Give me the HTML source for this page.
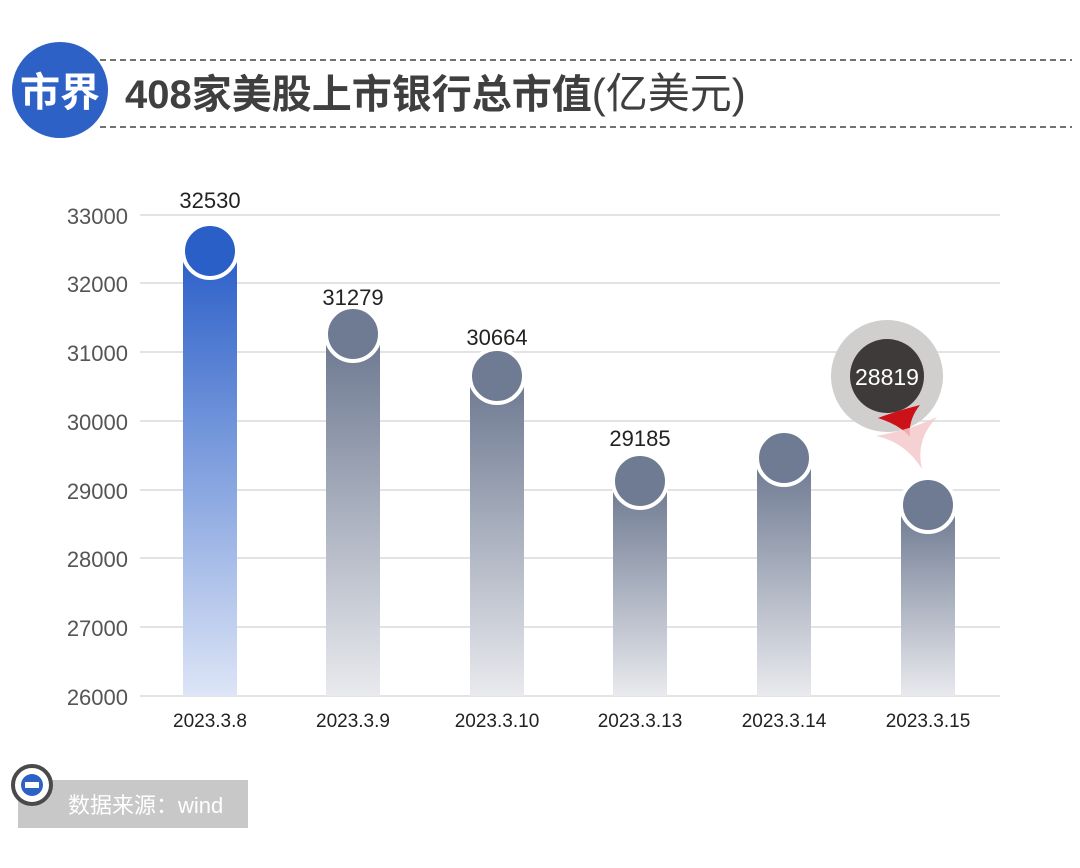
<!DOCTYPE html>
<html><head><meta charset="utf-8"><style>
body{margin:0;background:#fff;}
svg{display:block;font-family:"Liberation Sans","Noto Sans CJK SC",sans-serif;}
</style></head><body>
<svg width="1080" height="868" viewBox="0 0 1080 868">
<defs>
<linearGradient id="gb" x1="0" y1="0" x2="0" y2="1"><stop offset="0" stop-color="#2b5fc8"/><stop offset="1" stop-color="#dde5f6"/></linearGradient>
<linearGradient id="gg" x1="0" y1="0" x2="0" y2="1"><stop offset="0" stop-color="#6c7890"/><stop offset="1" stop-color="#e9eaee"/></linearGradient>
</defs>
<line x1="100" y1="60" x2="1072" y2="60" stroke="#444" stroke-width="1.5" stroke-dasharray="6,4"/>
<line x1="100" y1="127" x2="1072" y2="127" stroke="#444" stroke-width="1.5" stroke-dasharray="6,4"/>
<circle cx="60" cy="90" r="48" fill="#2d61c6"/>
<text x="60" y="106" text-anchor="middle" font-size="40" font-weight="bold" fill="#fff">市界</text>
<text x="125" y="108" font-size="40" font-weight="bold" fill="#3f3f3f">408家美股上市银行总市值<tspan font-size="42" font-weight="normal">(亿美元)</tspan></text>
<g stroke="#e3e3e3" stroke-width="2">
<line x1="140" y1="215" x2="1000" y2="215"/><line x1="140" y1="283" x2="1000" y2="283"/><line x1="140" y1="352" x2="1000" y2="352"/><line x1="140" y1="421" x2="1000" y2="421"/><line x1="140" y1="490" x2="1000" y2="490"/><line x1="140" y1="558" x2="1000" y2="558"/><line x1="140" y1="627" x2="1000" y2="627"/><line x1="140" y1="696" x2="1000" y2="696"/>
</g>
<g font-size="22" fill="#555" text-anchor="end">
<text x="128" y="224">33000</text><text x="128" y="292">32000</text><text x="128" y="361">31000</text><text x="128" y="430">30000</text><text x="128" y="499">29000</text><text x="128" y="567">28000</text><text x="128" y="636">27000</text><text x="128" y="705">26000</text>
</g>
<rect x="183" y="252" width="54" height="444" fill="url(#gb)"/>
<rect x="326" y="335" width="54" height="361" fill="url(#gg)"/>
<rect x="470" y="376" width="54" height="320" fill="url(#gg)"/>
<rect x="613" y="481" width="54" height="215" fill="url(#gg)"/>
<rect x="757" y="458" width="54" height="238" fill="url(#gg)"/>
<rect x="901" y="505" width="54" height="191" fill="url(#gg)"/>
<g stroke="#fff" stroke-width="4">
<circle cx="210" cy="251" r="27" fill="#2b5fc8"/>
<circle cx="353" cy="334" r="27" fill="#6e7b93"/>
<circle cx="497" cy="376" r="27" fill="#6e7b93"/>
<circle cx="640" cy="481" r="27" fill="#6e7b93"/>
<circle cx="784" cy="458" r="27" fill="#6e7b93"/>
<circle cx="928" cy="505" r="27" fill="#6e7b93"/>
</g>
<g font-size="22" fill="#222" text-anchor="middle">
<text x="210" y="208">32530</text><text x="353" y="305">31279</text><text x="497" y="345">30664</text><text x="640" y="446">29185</text>
</g>
<circle cx="887" cy="376" r="56" fill="#d0cfcd"/>
<circle cx="887" cy="376" r="37" fill="#3d3a39"/>
<text x="887" y="385" font-size="23" fill="#fff" text-anchor="middle">28819</text>
<path d="M878,418 Q900,410 920,405 Q908,420 910,437 Q900,425 878,418Z" fill="#cc1119"/>
<path d="M876,436 Q910,430 937,417 Q915,440 922,469 Q905,442 876,436Z" fill="#f4c9cd" opacity="0.85"/>
<g font-size="19" fill="#222" text-anchor="middle">
<text x="210" y="727">2023.3.8</text><text x="353" y="727">2023.3.9</text><text x="497" y="727">2023.3.10</text><text x="640" y="727">2023.3.13</text><text x="784" y="727">2023.3.14</text><text x="928" y="727">2023.3.15</text>
</g>
<rect x="18" y="780" width="230" height="48" fill="#c8c8c8"/>
<text x="68" y="813" font-size="22" fill="#fff">数据来源：wind</text>
<circle cx="32" cy="785" r="19" fill="#fff" stroke="#4a4a4a" stroke-width="4"/>
<circle cx="32" cy="785" r="11" fill="#2d61c6"/>
<rect x="25" y="782" width="14" height="6" fill="#fff"/>
</svg>
</body></html>
